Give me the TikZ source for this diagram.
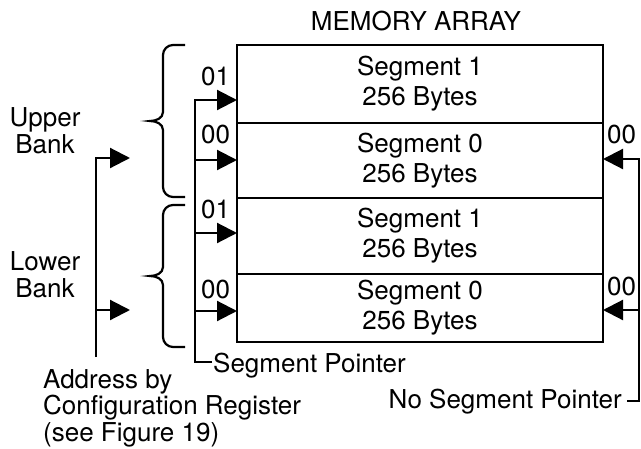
\documentclass[tikz,border=0pt]{standalone}
\usepackage{fontspec}
\setmainfont{TeX Gyre Heros}
\usetikzlibrary{arrows.meta, positioning}

\tikzset{
  txt/.style={inner sep=0pt, font=\fontsize{26}{26.5}\selectfont},
  segrow/.style={draw, line width=2.2pt, minimum width=366pt, inner sep=0pt, outer sep=0pt,
    align=center, font=\fontsize{26}{30}\selectfont},
  wire/.style={line width=2.2pt},
  ptr/.style={wire, -{Triangle[length=20pt, width=20pt]}},
}

\begin{document}
\begin{tikzpicture}[x=1pt, y=-1pt]
  \useasboundingbox (0,0) rectangle (641,448);

  % Memory array
  \node[txt, anchor=base] (title) at (416,30) {MEMORY ARRAY};
  \node[segrow, minimum height=78pt, anchor=north] (segU1) at (420,45) {Segment 1\\256 Bytes};
  \node[segrow, minimum height=75pt, below=0pt of segU1] (segU0) {Segment 0\\256 Bytes};
  \node[segrow, minimum height=76pt, below=0pt of segU0] (segL1) {Segment 1\\256 Bytes};
  \node[segrow, minimum height=68pt, below=0pt of segL1] (segL0) {Segment 0\\256 Bytes};

  % Bank braces (top / tip / bottom)
  \foreach \t/\m/\b in {45/121/197, 205/276/347}
    \draw[wire] (185,\t) -- (173,\t) to[out=180, in=90] (163,{\t+10})
      -- (163,{\m-9}) to[out=-90, in=0] (150,\m) to[out=0, in=90] (163,{\m+9})
      -- (163,{\b-10}) to[out=-90, in=180] (173,\b) -- (185,\b);
  \node[txt, align=center, anchor=base] (upper) at (45,153) {Upper\\Bank};
  \node[txt, align=center, anchor=base] (lower) at (45,297) {Lower\\Bank};

  % Segment pointer
  \foreach \code/\y [count=\i] in {01/85, 00/143, 01/218, 00/298}
    \node[txt, anchor=base west] (lcode\i) at (201,\y) {\code};
  \coordinate (ptrU1) at (195,100);
  \coordinate (ptrU0) at (195,160);
  \coordinate (ptrL1) at (195,233);
  \coordinate (ptrL0) at (195,311);
  \node[txt, anchor=base west] (segptr) at (213,372) {Segment Pointer};
  \draw[ptr] ([xshift=-1pt, yshift=3pt]segptr.west) -| (ptrU1) -- (ptrU1 -| segU1.west);
  \foreach \p/\r in {ptrU0/segU0, ptrL1/segL1, ptrL0/segL0}
    \draw[ptr] (\p) -- (\p -| \r.west);

  % No segment pointer
  \foreach \y [count=\i] in {143, 295}
    \node[txt, anchor=base west] (rcode\i) at (607,\y) {00};
  \coordinate (nsU0) at (639,159);
  \coordinate (nsL0) at (639,310);
  \node[txt, anchor=base east] (noseg) at (622,408) {No Segment Pointer};
  \draw[ptr] ([xshift=5pt]noseg.east) -| (nsU0) -- (nsU0 -| segU0.east);
  \draw[ptr] (nsL0) -- (nsL0 -| segL0.east);

  % Configuration register
  \coordinate (cfgU) at (96,158);
  \coordinate (cfgL) at (96,310);
  \coordinate (cfgbot) at (96,357);
  \coordinate (cfgUtip) at (130,158);
  \coordinate (cfgLtip) at (130,310);
  \draw[ptr] (cfgbot) -- (cfgU) -- (cfgUtip);
  \draw[ptr] (cfgL) -- (cfgLtip);
  \node[txt, align=left, anchor=base west] (cfg) at (43,441)
    {Address by\\Configuration Register\\(see Figure 19)};
\end{tikzpicture}
\end{document}
